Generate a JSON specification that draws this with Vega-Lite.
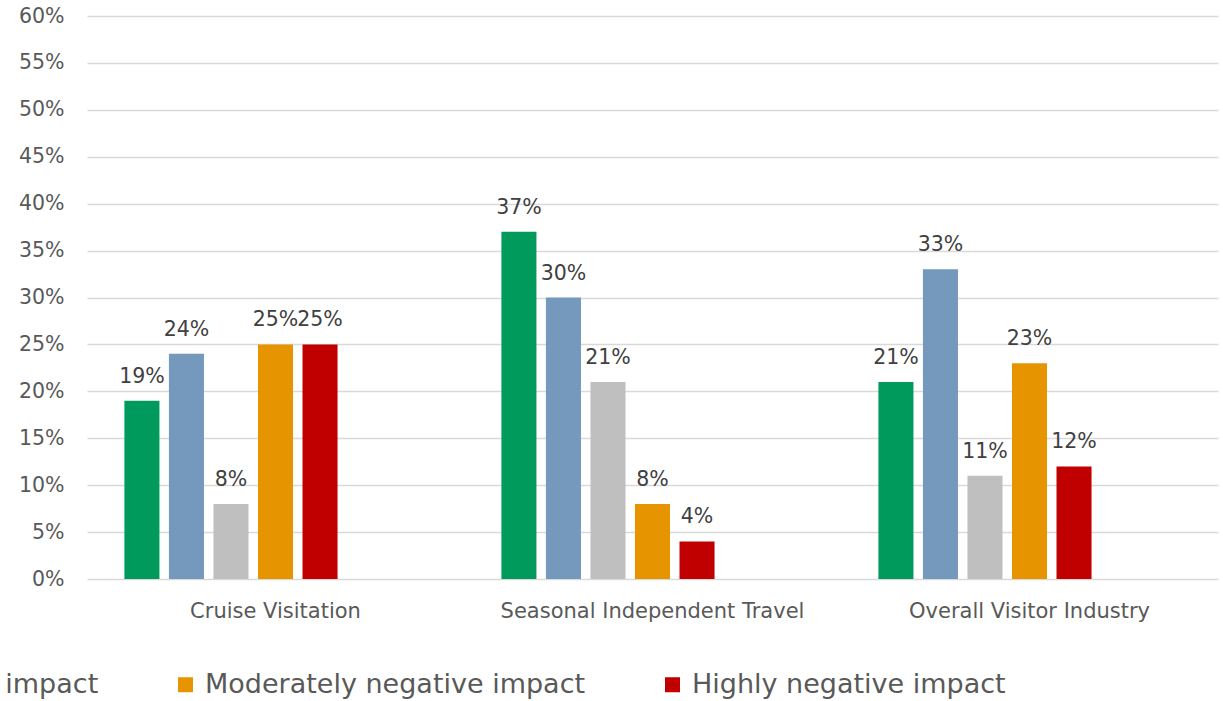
{
  "$schema": "https://vega.github.io/schema/vega-lite/v6.json",
  "width": 1131,
  "height": 563,
  "autosize": {"type": "none"},
  "padding": {"left": 87, "top": 16, "right": 5, "bottom": 122},
  "background": "white",
  "config": {
    "view": {"stroke": null},
    "font": "DejaVu Sans"
  },
  "data": {
    "values": [
      {"category": "Cruise Visitation", "impact": "Highly positive impact", "share": 0.19},
      {"category": "Cruise Visitation", "impact": "Moderately positive impact", "share": 0.24},
      {"category": "Cruise Visitation", "impact": "No impact", "share": 0.08},
      {"category": "Cruise Visitation", "impact": "Moderately negative impact", "share": 0.25},
      {"category": "Cruise Visitation", "impact": "Highly negative impact", "share": 0.25},
      {"category": "Seasonal Independent Travel", "impact": "Highly positive impact", "share": 0.37},
      {"category": "Seasonal Independent Travel", "impact": "Moderately positive impact", "share": 0.30},
      {"category": "Seasonal Independent Travel", "impact": "No impact", "share": 0.21},
      {"category": "Seasonal Independent Travel", "impact": "Moderately negative impact", "share": 0.08},
      {"category": "Seasonal Independent Travel", "impact": "Highly negative impact", "share": 0.04},
      {"category": "Overall Visitor Industry", "impact": "Highly positive impact", "share": 0.21},
      {"category": "Overall Visitor Industry", "impact": "Moderately positive impact", "share": 0.33},
      {"category": "Overall Visitor Industry", "impact": "No impact", "share": 0.11},
      {"category": "Overall Visitor Industry", "impact": "Moderately negative impact", "share": 0.23},
      {"category": "Overall Visitor Industry", "impact": "Highly negative impact", "share": 0.12}
    ]
  },
  "encoding": {
    "x": {
      "field": "category",
      "type": "nominal",
      "sort": ["Cruise Visitation", "Seasonal Independent Travel", "Overall Visitor Industry"],
      "scale": {"paddingInner": 0, "paddingOuter": 0},
      "axis": {
        "title": null,
        "labelAngle": 0,
        "labelFont": "DejaVu Sans",
        "labelFontSize": 21,
        "labelColor": "#595959",
        "labelPadding": 21,
        "labelLimit": 0,
        "ticks": false,
        "domain": false,
        "grid": false
      }
    },
    "xOffset": {
      "field": "impact",
      "type": "nominal",
      "scale": {
        "domain": ["Highly positive impact", "Moderately positive impact", "No impact", "Moderately negative impact", "Highly negative impact", "slot6", "slot7"],
        "paddingInner": 0.213,
        "paddingOuter": 0.84
      }
    },
    "y": {
      "field": "share",
      "type": "quantitative",
      "scale": {"domain": [0, 0.6], "nice": false},
      "axis": {
        "title": null,
        "format": ".0%",
        "values": [0, 0.05, 0.1, 0.15, 0.2, 0.25, 0.3, 0.35, 0.4, 0.45, 0.5, 0.55, 0.6],
        "labelFont": "DejaVu Sans",
        "labelFontSize": 20.5,
        "labelColor": "#595959",
        "labelPadding": 23,
        "ticks": false,
        "domain": false,
        "grid": true,
        "gridColor": "#D9D9D9",
        "gridWidth": 1.5
      }
    }
  },
  "layer": [
    {
      "mark": {"type": "bar"},
      "encoding": {
        "color": {
          "field": "impact",
          "type": "nominal",
          "scale": {
            "domain": ["Highly positive impact", "Moderately positive impact", "No impact", "Moderately negative impact", "Highly negative impact"],
            "range": ["#009B5C", "#7598BD", "#BFBFBF", "#E69500", "#C00000"]
          },
          "legend": {
            "title": null,
            "orient": "none",
            "direction": "horizontal",
            "legendX": -1042,
            "legendY": 655,
            "symbolType": "square",
            "symbolSize": 225,
            "symbolStrokeWidth": 0,
            "labelFont": "DejaVu Sans",
            "labelFontSize": 27,
            "labelColor": "#595959",
            "labelOffset": 6,
            "labelLimit": 0,
            "columnPadding": 73
          }
        }
      }
    },
    {
      "mark": {"type": "text", "baseline": "alphabetic", "dy": -18, "fontSize": 20.5, "color": "#404040", "font": "DejaVu Sans"},
      "encoding": {
        "text": {"field": "share", "type": "quantitative", "format": ".0%"}
      }
    }
  ]
}
